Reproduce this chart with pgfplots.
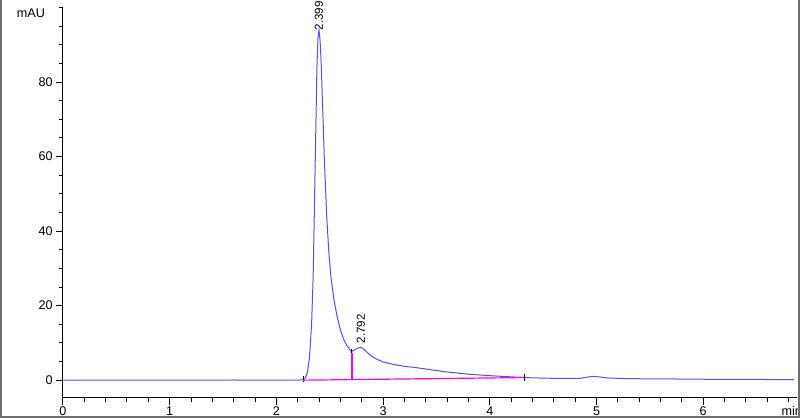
\documentclass[border=0pt]{standalone}
\usepackage{fontspec}
\setmainfont{Liberation Sans}
\usepackage{pgfplots}
\pgfplotsset{compat=1.18}
\definecolor{trace}{RGB}{80,80,255}
\definecolor{intbase}{RGB}{255,0,255}
\definecolor{frame}{RGB}{110,110,110}
\begin{document}
\begin{tikzpicture}
\begin{axis}[
  scale only axis, width=367pt, height=195pt,
  xmin=0, xmax=6.88, ymin=-4.7, ymax=100,
  axis x line=bottom, axis y line=left,
  axis line style={-, black, line width=0.5pt},
  tick align=outside, major tick length=3.5pt, minor tick length=2pt,
  tick style={black, line width=0.5pt},
  xtick={0,1,...,6}, minor xtick={0.2,0.4,...,6.8},
  ytick={0,20,...,80}, minor ytick={5,10,...,100},
  clip=false,
  /pgf/number format/assume math mode=true,
  tick label style={font=\fontsize{6.3}{7}\selectfont},
  xticklabel style={inner sep=1pt},
  yticklabel style={inner sep=1.5pt},
]
% chromatogram trace
\addplot[trace, line width=0.5pt] coordinates {
  (0,0) (1.5,0) (1.6,0.05) (1.7,0) (2.2,0) (2.25,0.1) (2.27,0.5) (2.29,2)
  (2.31,6) (2.33,15) (2.345,28) (2.36,52) (2.37,68) (2.38,84) (2.39,92)
  (2.399,94) (2.41,91) (2.42,85) (2.435,72) (2.45,59) (2.47,45) (2.49,35)
  (2.51,28) (2.54,21.5) (2.57,17) (2.60,13.5) (2.63,11) (2.66,9.3)
  (2.69,8.1) (2.706,7.7) (2.73,8.1) (2.76,8.6) (2.792,8.8) (2.82,8.3)
  (2.86,7.2) (2.9,6.3) (2.95,5.5) (3.0,4.9) (3.1,4.2) (3.2,3.7) (3.3,3.4)
  (3.45,2.8) (3.6,2.2) (3.8,1.6) (4.0,1.2) (4.2,0.9) (4.32,0.7) (4.5,0.55)
  (4.7,0.45) (4.85,0.5) (4.93,0.9) (4.97,1.0) (5.02,0.9) (5.1,0.6)
  (5.3,0.4) (5.6,0.35) (6.0,0.25) (6.3,0.2) (6.6,0.18) (6.85,0.18)
};
% peak start / end / valley markers
\addplot[black, line width=0.4pt] coordinates {(2.25,-0.6) (2.25,1.2)};
\addplot[black, line width=0.4pt] coordinates {(4.32,-0.2) (4.32,1.6)};
\addplot[black, line width=0.4pt] coordinates {(2.706,7.4) (2.706,8.4)};
% integration baseline and drop line
\addplot[intbase, line width=0.6pt] coordinates {(2.25,0) (4.32,0.7)};
\addplot[draw=intbase, line width=1pt] coordinates {(2.706,0.3) (2.706,7.4)};
\node[rotate=90, anchor=west, inner sep=0.3pt, font=\fontsize{5.8}{7}\selectfont] at (axis cs:2.399,93.6) {2.399};
\node[rotate=90, anchor=west, inner sep=0.3pt, font=\fontsize{5.8}{7}\selectfont] at (axis cs:2.792,9.6) {2.792};
\node[font=\fontsize{6.3}{7}\selectfont] at (axis cs:-0.30,98.5) {mAU};
\node[font=\fontsize{6.3}{7}\selectfont] at (axis cs:6.83,-8.2) {min};
\coordinate (tl) at (axis cs:-0.590,102.04);
\coordinate (br) at (axis cs:6.907,-10.08);
\end{axis}
\draw[frame, line width=2pt] (tl) -- (tl|-br) -- (br) -- (br|-tl);
\pgfresetboundingbox
\path[use as bounding box] (tl) rectangle (br);
\end{tikzpicture}
\end{document}
